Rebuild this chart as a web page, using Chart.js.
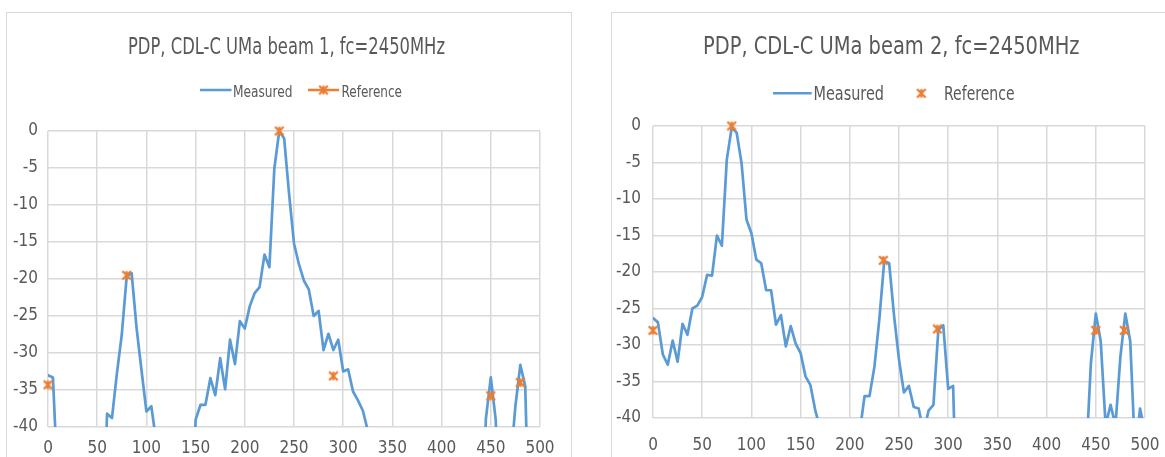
<!DOCTYPE html>
<html>
<head>
<meta charset="utf-8">
<script src="https://cdn.jsdelivr.net/npm/chart.js@4.4.1/dist/chart.umd.min.js"></script>
<style>
html,body{margin:0;padding:0;background:#ffffff;width:1165px;height:457px;overflow:hidden;}
.card{position:absolute;border:1px solid #d9d9d9;box-sizing:border-box;background:#fff;}
canvas{position:absolute;top:0;}
</style>
</head>
<body>
<div class="card" style="left:6px;top:12px;width:566px;height:470px"></div>
<div class="card" style="left:611px;top:12px;width:580px;height:470px"></div>
<canvas id="c1" width="580" height="457" style="left:0px;width:580px;height:457px"></canvas>
<canvas id="c2" width="580" height="457" style="left:585px;width:580px;height:457px"></canvas>
<script>
// ---------------- data ----------------
const titles = ['PDP, CDL-C UMa beam 1, fc=2450MHz', 'PDP, CDL-C UMa beam 2, fc=2450MHz'];
const seriesNames = ['Measured', 'Reference'];

const delay = [
  0,5,10,15,20,25,30,35,40,45,
  50,55,60,65,70,75,80,85,90,95,
  100,105,110,115,120,125,130,135,140,145,
  150,155,160,165,170,175,180,185,190,195,
  200,205,210,215,220,225,230,235,240,245,
  250,255,260,265,270,275,280,285,290,295,
  300,305,310,315,320,325,330,335,340,345,
  350,355,360,365,370,375,380,385,390,395,
  400,405,410,415,420,425,430,435,440,445,
  450,455,460,465,470,475,480,485,490,495,
  500
];

// beam 1 measured (values below -40 lie off the axis)
const measured1 = [
  -33.0,-33.3,-48,-60,-60,-60,-60,-60,-60,-60,
  -60,-60,-38.2,-38.8,-32.8,-27.5,-19.6,-19.2,-26.6,-32.3,
  -37.9,-37.2,-42,-60,-60,-60,-60,-60,-60,-60,
  -39,-37,-37,-33.4,-35.7,-30.7,-34.9,-28.2,-31.5,-25.7,
  -26.7,-23.7,-21.9,-21.1,-16.7,-18.4,-5.1,0,-1.0,-8.5,
  -15.2,-18,-20.2,-21.4,-25,-24.3,-29.6,-27.4,-29.6,-28.2,
  -32.5,-32.2,-35.2,-36.4,-37.8,-40.5,-60,-60,-60,-60,
  -60,-60,-60,-60,-60,-60,-60,-60,-60,-60,
  -60,-60,-60,-60,-60,-60,-60,-60,-60,-38.9,
  -33.3,-39,-60,-60,-45,-37.2,-31.6,-34.5,-60,-60,
  -60
];
const refDelay1 = [0, 80, 235, 290, 450, 480];
const refPower1 = [-34.3, -19.5, 0, -33.1, -35.8, -34.0];

// beam 2 measured
const measured2 = [
  -26.3,-26.9,-31.3,-32.7,-29.4,-32.3,-27.1,-28.6,-25,-24.6,
  -23.4,-20.4,-20.5,-15,-16.4,-4.6,-0.2,-0.9,-5.1,-12.8,
  -14.7,-18.3,-18.8,-22.5,-22.5,-27.2,-25.9,-30.2,-27.4,-29.8,
  -31.1,-34.3,-35.5,-39,-41.5,-60,-60,-60,-60,-60,
  -60,-60,-42,-37,-37,-33,-26.5,-18.5,-18.8,-26,
  -32,-36.5,-35.6,-38.5,-38.7,-42,-39,-38.2,-27.9,-27.3,
  -36,-35.6,-60,-60,-60,-60,-60,-60,-60,-60,
  -60,-60,-60,-60,-60,-60,-60,-60,-60,-60,
  -60,-60,-60,-60,-60,-60,-60,-60,-46,-32.5,
  -25.7,-29.5,-41,-38.2,-41,-31.6,-25.7,-29.5,-45,-38.7,
  -42
];
const refDelay2 = [0, 80, 234, 289, 450, 479];
const refPower2 = [-28.0, 0, -18.4, -27.8, -28.0, -28.0];

const xTicks = {min: 0, max: 500, step: 50};
const yTicks = {min: -40, max: 0, step: 5};

// ---------------- style ----------------
const BLUE = '#5B9BD5';
const ORANGE = '#ED7D31';
const TEXT = '#595959';
const GRID = '#d9d9d9';
const FONT = "'Liberation Sans Narrow', 'DejaVu Sans Condensed', 'Liberation Sans', sans-serif";

function starMarker(size, color, lw) {
  const c = document.createElement('canvas');
  c.width = size; c.height = size;
  const g = c.getContext('2d');
  g.strokeStyle = color; g.lineWidth = lw; g.lineCap = 'butt';
  const m = 1.2;
  g.beginPath();
  g.moveTo(m, m); g.lineTo(size - m, size - m);
  g.moveTo(size - m, m); g.lineTo(m, size - m);
  g.moveTo(size / 2, m); g.lineTo(size / 2, size - m);
  g.stroke();
  return c;
}
const marker = starMarker(11, ORANGE, 2.3);

function drawFitted(ctx, text, left, base, size, width) {
  ctx.font = size + 'px ' + FONT;
  const w = ctx.measureText(text).width;
  const sx = width / w;
  ctx.save();
  ctx.translate(left, base);
  ctx.scale(sx, 1);
  ctx.textAlign = 'left';
  ctx.textBaseline = 'alphabetic';
  ctx.fillStyle = TEXT;
  ctx.fillText(text, 0, 0);
  ctx.restore();
}

const headPlugin = {
  id: 'excelHead',
  afterDraw(chart, args, o) {
    const ctx = chart.ctx;
    ctx.save();
    drawFitted(ctx, o.title, o.titleLeft, o.titleBase, o.titleSize, o.titleWidth);
    o.items.forEach(it => {
      const ds = chart.data.datasets[it.dataset];
      if (it.line) {
        ctx.strokeStyle = ds.borderColor;
        ctx.lineWidth = 2.5;
        ctx.beginPath();
        ctx.moveTo(it.line[0], it.y);
        ctx.lineTo(it.line[1], it.y);
        ctx.stroke();
      }
      if (it.markerX !== undefined) {
        ctx.drawImage(marker, it.markerX - marker.width / 2, it.y - marker.height / 2);
      }
      drawFitted(ctx, ds.label, it.textLeft, it.base, it.size, it.width);
    });
    ctx.restore();
  }
};

function makeChart(id, measured, refX, refY, cfg) {
  const measuredPts = delay.map((d, i) => ({x: d, y: measured[i]}));
  const refPts = refX.map((d, i) => ({x: d, y: refY[i]}));
  return new Chart(document.getElementById(id), {
    type: 'line',
    data: {
      datasets: [
        {
          label: seriesNames[0], data: measuredPts,
          borderColor: BLUE, backgroundColor: BLUE, borderWidth: 2.7,
          pointRadius: 0, tension: 0, borderJoinStyle: 'round', borderCapStyle: 'round',
          order: 2
        },
        {
          label: seriesNames[1], data: refPts,
          borderColor: ORANGE, backgroundColor: ORANGE, showLine: false,
          pointStyle: marker, pointRadius: 5, clip: false, order: 1
        }
      ]
    },
    options: {
      responsive: false,
      devicePixelRatio: 1,
      animation: false,
      events: [],
      layout: {padding: cfg.padding},
      plugins: {
        legend: {display: false},
        title: {display: false},
        tooltip: {enabled: false},
        excelHead: cfg.head
      },
      scales: {
        x: {
          type: 'linear', min: xTicks.min, max: xTicks.max,
          ticks: {stepSize: xTicks.step, color: TEXT, font: {family: FONT, size: cfg.tickSize}, padding: cfg.xPad, maxRotation: 0},
          grid: {color: GRID, lineWidth: 1.5, drawTicks: false},
          border: {display: false},
          afterFit: s => { s.height = cfg.xHeight; s.paddingLeft = 8; s.paddingRight = 14; }
        },
        y: {
          type: 'linear', min: yTicks.min, max: yTicks.max,
          ticks: {stepSize: yTicks.step, color: TEXT, font: {family: FONT, size: cfg.tickSize}, padding: cfg.yPad},
          grid: {color: GRID, lineWidth: 1.5, drawTicks: false},
          border: {display: false},
          afterFit: s => { s.width = cfg.yWidth; }
        }
      }
    },
    plugins: [headPlugin]
  });
}

makeChart('c1', measured1, refDelay1, refPower1, {
  padding: {top: 131, right: 40, bottom: 0, left: 0},
  yWidth: 48, xHeight: 30, tickSize: 17, xPad: 11, yPad: 10,
  head: {
    title: titles[0], titleLeft: 128, titleBase: 53.5, titleSize: 23, titleWidth: 317,
    items: [
      {dataset: 0, y: 90, line: [200, 231.5], textLeft: 233, base: 96.5, size: 16.5, width: 59.5},
      {dataset: 1, y: 90, line: [308, 339], markerX: 323.5, textLeft: 341.5, base: 96.5, size: 16.5, width: 60.5}
    ]
  }
});

makeChart('c2', measured2, refDelay2, refPower2, {
  padding: {top: 126, right: 20, bottom: 0, left: 0},
  yWidth: 68, xHeight: 39, tickSize: 17, xPad: 17, yPad: 12,
  head: {
    title: titles[1], titleLeft: 118, titleBase: 53.5, titleSize: 25.5, titleWidth: 376.5,
    items: [
      {dataset: 0, y: 93.3, line: [188, 226.7], textLeft: 228.5, base: 100, size: 18.6, width: 70.5},
      {dataset: 1, y: 93.3, markerX: 336.3, textLeft: 359, base: 100, size: 18.6, width: 70.6}
    ]
  }
});
</script>
</body>
</html>
